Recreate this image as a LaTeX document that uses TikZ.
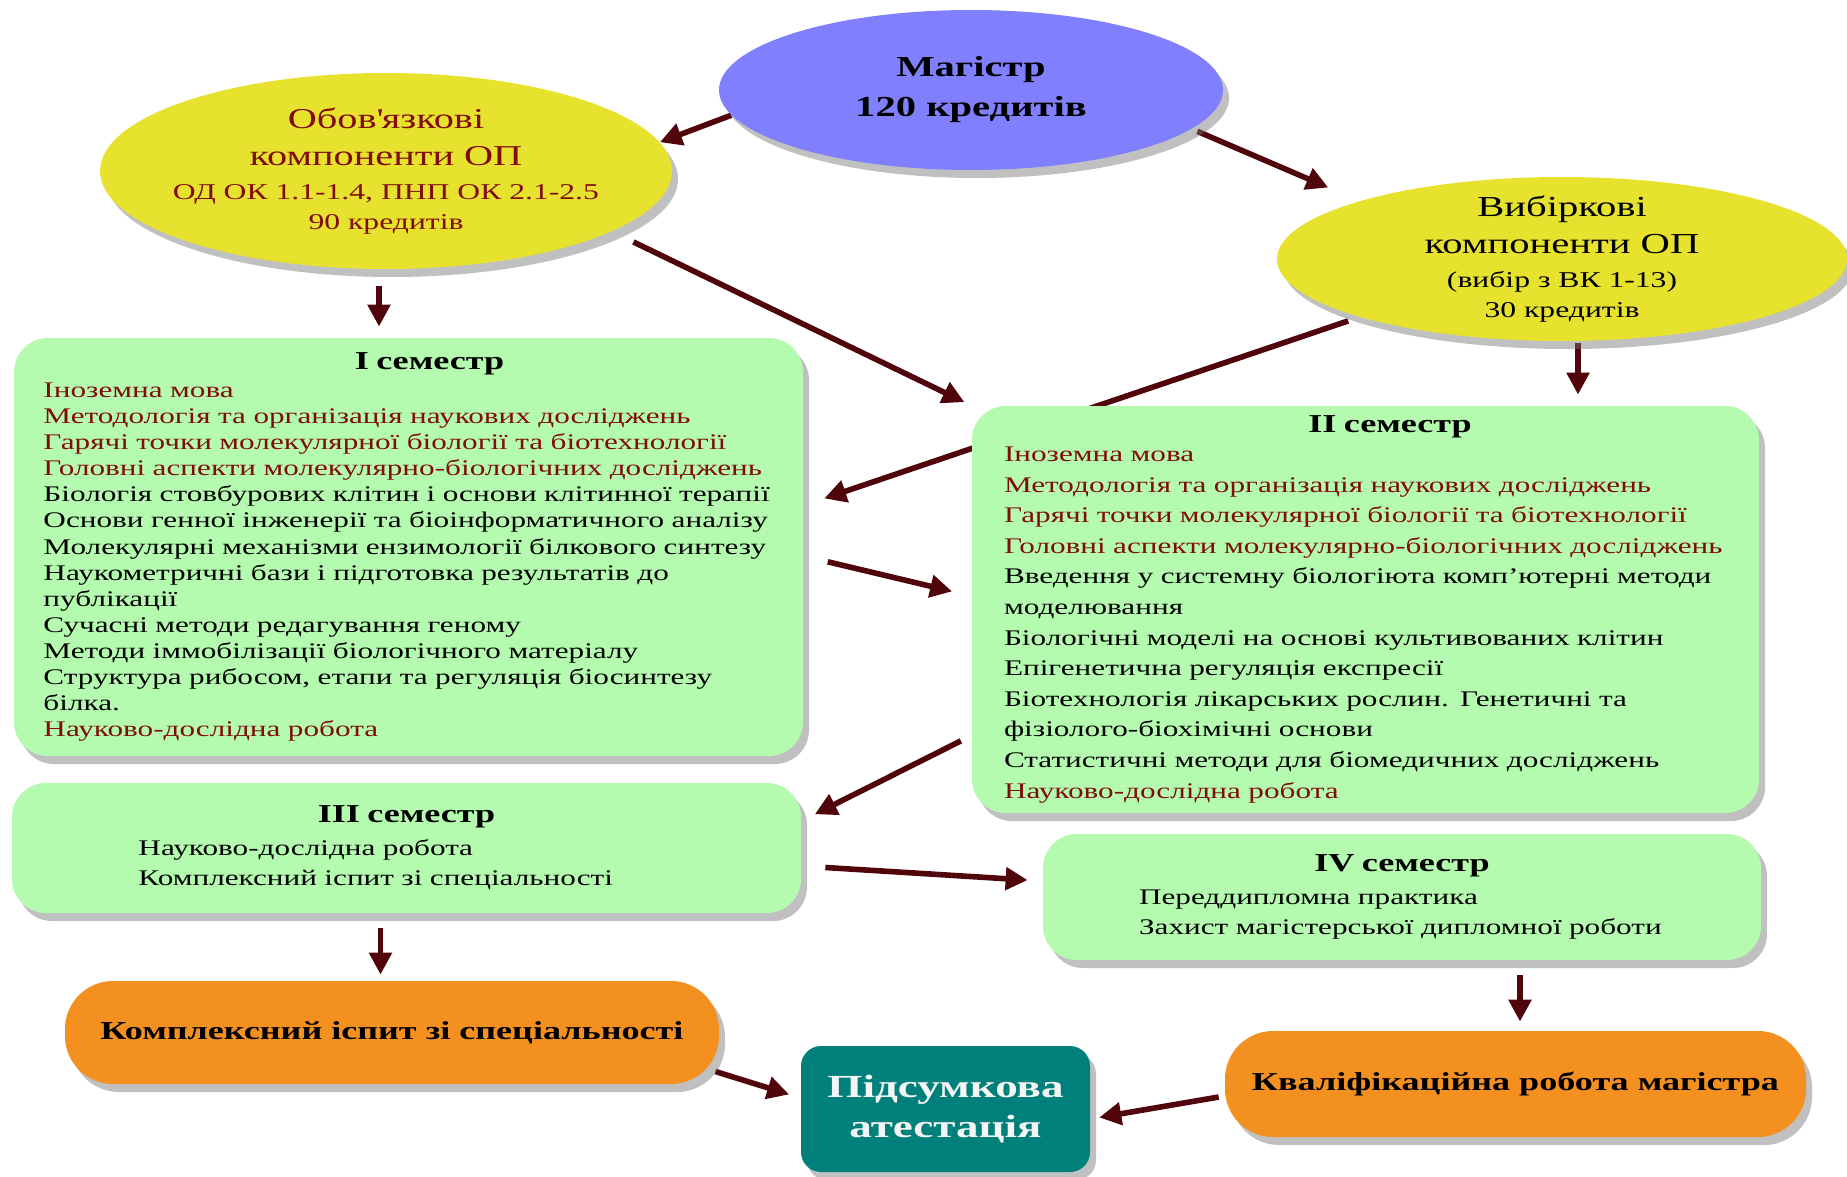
\documentclass[tikz,border=0pt]{standalone}
\usepackage{fontspec}
\setmainfont{Liberation Serif}[FakeStretch=1.4]
\usetikzlibrary{arrows.meta,shapes.geometric,shadows,backgrounds}

\definecolor{magblue}{RGB}{128,128,255}
\definecolor{compyellow}{RGB}{230,226,46}
\definecolor{semgreen}{RGB}{180,250,175}
\definecolor{examorange}{RGB}{243,144,32}
\definecolor{finalteal}{RGB}{0,128,122}
\definecolor{darkred}{RGB}{128,12,12}
\definecolor{arrowbrown}{RGB}{80,5,10}

\newcommand{\redline}[1]{\textcolor{darkred}{#1}}
\newcommand{\semtitle}[1]{\makebox[\linewidth]{\fontsize{12.9}{15}\bfseries #1}}

\tikzset{
    softshadow/.style={drop shadow={shadow xshift=3pt, shadow yshift=-4pt, fill=black!55, opacity=.45}},
    oval/.style={ellipse, inner xsep=-10pt, inner ysep=-6pt, align=center, softshadow},
    semblock/.style={rounded corners=17pt, fill=semgreen, align=left, inner xsep=4pt, softshadow},
    pill/.style={rounded corners=24pt, fill=examorange, font=\fontsize{12.9}{16}\selectfont\bfseries, softshadow},
    arr/.style={arrowbrown, line width=2.8pt, -{Triangle[length=11pt,width=11pt]}},
}

\begin{document}
\begin{tikzpicture}[x=0.5pt, y=-0.5pt]
        \useasboundingbox (0,0) rectangle (1847,1177);

        % ovals
        \node[oval, fill=magblue, minimum width=252pt, minimum height=80pt,
              font=\fontsize{14.5}{20}\selectfont\bfseries] (mag) at (971,90) {Магістр\\120 кредитів};
        \node[oval, fill=compyellow, minimum width=286pt, minimum height=98pt, text=darkred,
              font=\fontsize{14.4}{16.5}\selectfont] (obov) at (386,171)
              {Обов\textquotesingle язкові\\[2pt]компоненти ОП\\[0.5pt]{\fontsize{11.3}{13}\selectfont ОД ОК 1.1-1.4, ПНП ОК 2.1-2.5}\\[-1.2pt]{\fontsize{11.3}{13}\selectfont 90 кредитів}};
        \node[oval, fill=compyellow, minimum width=285pt, minimum height=82pt,
              font=\fontsize{14.5}{16.5}\selectfont] (vyb) at (1562,259)
              {Вибіркові\\[2pt]компоненти ОП\\[0.5pt]{\fontsize{11.3}{13}\selectfont (вибір з ВК 1-13)}\\[-1.2pt]{\fontsize{11.3}{13}\selectfont 30 кредитів}};

        % semesters
        \node[semblock, minimum width=394.5pt, minimum height=209pt, text width=386pt,
              font=\fontsize{11.15}{13.05}\selectfont] (sem1) at (408.5,547) {\leftskip=10.5pt\semtitle{I семестр}\\[1pt]
            \redline{Іноземна мова}\\
            \redline{Методологія та організація наукових досліджень}\\
            \redline{Гарячі точки молекулярної біології та біотехнології}\\
            \redline{Головні аспекти молекулярно-біологічних досліджень}\\
            Біологія стовбурових клітин і основи клітинної терапії\\
            Основи генної інженерії та біоінформатичного аналізу\\
            Молекулярні механізми ензимології білкового синтезу\\
            Наукометричні бази і підготовка результатів до\\
            публікації\\
            Сучасні методи редагування геному\\
            Методи іммобілізації біологічного матеріалу\\
            Структура рибосом, етапи та регуляція біосинтезу\\
            білка.\\
            \redline{Науково-дослідна робота}\par};
        \node[semblock, minimum width=393.5pt, minimum height=203.5pt, text width=386pt,
              inner xsep=3.75pt, font=\fontsize{11.15}{15.3}\selectfont] (sem2) at (1365.5,609.5) {\leftskip=12.25pt\semtitle{II семестр}\\[-1pt]
            \redline{Іноземна мова}\\
            \redline{Методологія та організація наукових досліджень}\\
            \redline{Гарячі точки молекулярної біології та біотехнології}\\
            \redline{Головні аспекти молекулярно-біологічних досліджень}\\
            Введення у системну біологіюта комп’ютерні методи\\
            моделювання\\
            Біологічні моделі на основі культивованих клітин\\
            Епігенетична регуляція експресії\\
            Біотехнологія лікарських рослин. Генетичні та\\
            фізіолого-біохімічні основи\\
            Статистичні методи для біомедичних досліджень\\
            \redline{Науково-дослідна робота}\par};
        \node[semblock, minimum width=394.5pt, minimum height=65pt, text width=386pt,
              font=\fontsize{11.15}{15.3}\selectfont] (sem3) at (406.5,848) {\semtitle{III семестр}\\[1pt]
            \hspace*{59pt}Науково-дослідна робота\\
            \hspace*{59pt}Комплексний іспит зі спеціальності};
        \node[semblock, minimum width=359pt, minimum height=63pt, text width=351pt,
              font=\fontsize{11.15}{15.3}\selectfont] (sem4) at (1402,897) {\semtitle{IV семестр}\\[1pt]
            \hspace*{44pt}Переддипломна практика\\
            \hspace*{44pt}Захист магістерської дипломної роботи};

        % exams
        \node[pill, minimum width=327pt, minimum height=51.5pt] (exam) at (392,1032.5) {Комплексний іспит зі спеціальності};
        \node[pill, minimum width=290.5pt, minimum height=53pt] (qual) at (1515.5,1084) {Кваліфікаційна робота магістра};
        \node[rounded corners=10pt, fill=finalteal, text=white!92!gray, align=center, softshadow,
              minimum width=144.5pt, minimum height=63pt, font=\fontsize{16.1}{20}\selectfont\bfseries] (final) at (945.5,1109) {Підсумкова\\атестація};

        % arrows
        \begin{scope}[on background layer]
        \draw[arr] (mag.186) -- (obov.6);
        \draw[arr, shorten <=3pt, shorten >=17pt] (mag.350) -- (vyb.164);
        \draw[arr, shorten <=8.5pt, shorten >=5.5pt] ([xshift=-3.5pt]obov.south) -- ([xshift=-3.5pt]obov.south |- sem1.north);
        \draw[arr, shorten <=12pt, shorten >=4pt] (obov.345) -- (sem2.north west);
        \draw[arr, shorten <=6pt, shorten >=11pt] (vyb.196) -- (sem1.6);
        \draw[arr, shorten <=1pt, shorten >=5.5pt] ([xshift=8pt]vyb.south) -- ([xshift=8pt]vyb.south |- sem2.north);
        \draw[arr, shorten <=12.5pt, shorten >=10pt] ([yshift=-4.5pt]sem1.east) -- ([yshift=6.75pt]sem2.west);
        \draw[arr, shorten <=6pt, shorten >=7.5pt] ([yshift=-63pt]sem2.west) -- ([yshift=13.5pt]sem3.east);
        \draw[arr, shorten <=12pt, shorten >=7.5pt] ([yshift=-9pt]sem3.east) -- ([yshift=8pt]sem4.west);
        \draw[arr, shorten <=7.5pt, shorten >=3pt] ([xshift=-13pt]sem3.south) -- ([xshift=-13pt]sem3.south |- exam.north);
        \draw[arr, shorten <=7.5pt, shorten >=4.5pt] ([xshift=59pt]sem4.south) -- ([xshift=59pt]sem4.south |- qual.north);
        \draw[arr, shorten >=6pt] ([xshift=-2pt,yshift=-19.5pt]exam.east) -- ([yshift=5.5pt]final.west);
        \draw[arr, shorten <=3pt, shorten >=4.5pt] ([yshift=-6pt]qual.west) -- ([yshift=-5pt]final.east);
        \end{scope}
\end{tikzpicture}
\end{document}
